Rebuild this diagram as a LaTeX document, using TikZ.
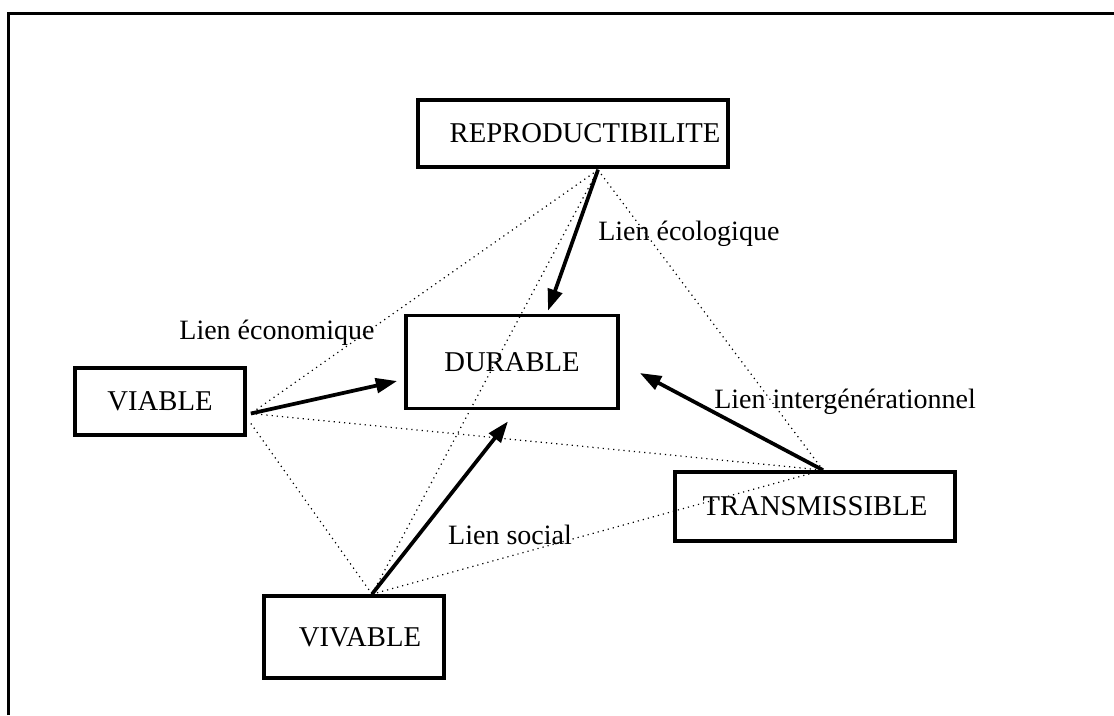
\documentclass[tikz,border=0pt]{standalone}
\usepackage{fontspec}
\setmainfont{Liberation Serif}
\usetikzlibrary{arrows.meta,calc}
\begin{document}
\begin{tikzpicture}[x=0.75pt,y=-0.75pt,
  box/.style={draw,line width=2.8pt,inner sep=0pt,font=\fontsize{21.5pt}{24pt}\selectfont},
  lbl/.style={inner sep=0pt,font=\fontsize{21pt}{24pt}\selectfont},
  strong/.style={line width=2.8pt,-{Triangle[length=16pt,width=11pt]}},
  dots/.style={line width=0.9pt,dash pattern=on 0.9pt off 3pt}]
\useasboundingbox (0,0) rectangle (1114,715);
% outer frame (top and left sides visible)
\draw[line width=2.2pt] (8.5,715) -- (8.5,13.5) -- (1114,13.5);
% boxes
\node[box,minimum width=232.5pt,minimum height=50.25pt] (repro) at (573,133.5) {\hspace*{18pt}REPRODUCTIBILITE};
\node[box,minimum width=159pt,minimum height=69.75pt] (durable) at (512,362) {DURABLE};
\node[box,minimum width=127.5pt,minimum height=50.25pt] (viable) at (160,401.5) {VIABLE};
\node[box,minimum width=210pt,minimum height=51.75pt] (transm) at (815,506.5) {TRANSMISSIBLE};
\node[box,minimum width=135pt,minimum height=61.5pt] (vivable) at (354,637) {\hspace*{9pt}VIVABLE};
% anchor points
\coordinate (R) at ($(repro.south)+(25,1)$);
\coordinate (Vi) at ($(viable.east)+(4,12)$);
\coordinate (Vi2) at ($(viable.east)+(4,22)$);
\coordinate (Vv) at ($(vivable.north)+(18,0)$);
\coordinate (T) at ($(transm.north)+(8,0)$);
\coordinate (dR) at ($(durable.north)+(36,-3)$);
\coordinate (dVi) at ($(durable.west)+(-7,19)$);
\coordinate (dVv) at ($(durable.south)+(-4,11)$);
\coordinate (dT) at ($(durable.east)+(20,11)$);
% dotted links
\draw[dots] (R) -- (Vi);
\draw[dots] (R) -- (Vv);
\draw[dots] (R) -- (T);
\draw[dots] (Vi) -- (T);
\draw[dots] (Vi2) -- (Vv);
\draw[dots] (Vv) -- (T);
% thick arrows
\draw[strong] (R) -- (dR);
\draw[strong] (Vi) -- (dVi);
\draw[strong] (Vv) -- (dVv);
\draw[strong] (T) -- (dT);
% labels
\node[lbl,anchor=west] (lecol) at (598,234) {Lien écologique};
\node[lbl] (leco) at (277,333) {Lien économique};
\node[lbl] (linter) at (845,402) {Lien intergénérationnel};
\node[lbl] (lsoc) at (510,535) {Lien social};
\end{tikzpicture}
\end{document}
